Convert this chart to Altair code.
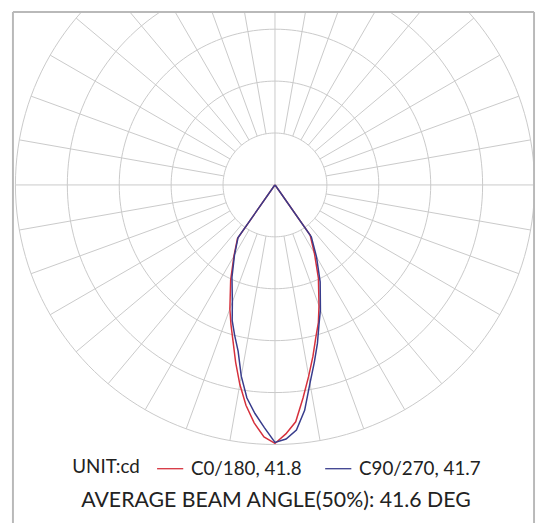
import altair as alt
import pandas as pd

# ---- data (intensity in cd, outer ring = 250) ----
angles = [0, 2.5, 5, 7.5, 10, 12.5, 15, 17.5, 20, 25, 30, 35, 40, 50, 60, 70, 80, 90]
c0   = [249, 240, 229, 207, 187, 169, 152, 139, 124, 99, 76, 59, 1, 0, 0, 0, 0, 0]
c180 = [249, 243, 230, 214, 195, 175, 156, 141, 127, 101, 79, 63, 1, 0, 0, 0, 0, 0]
c90  = [248, 245, 237, 219, 194, 175, 158, 141, 128, 103, 80, 61, 1, 0, 0, 0, 0, 0]
c270 = [248, 234, 221, 207, 187, 164, 150, 137, 120, 98, 78, 62, 1, 0, 0, 0, 0, 0]

rings = [50, 100, 150, 200, 250]
spoke_angles = list(range(0, 360, 10))
series_names = ["C0/180, 41.8", "C90/270, 41.7"]
series_colors = ["#d6303c", "#383c8c"]
unit_label = "UNIT:cd"
footer_text = "AVERAGE BEAM ANGLE(50%): 41.6 DEG"

FONT = "Lato"
GRID = "#c9c9c9"
FRAME = "#b9b9b9"

# ---- tables built from the arrays ----
rows = []
for name, right, left in [(series_names[0], c0, c180), (series_names[1], c90, c270)]:
    for a, v in zip(angles, left):
        rows.append({"series": name, "phi": -a, "r": v})
    for a, v in zip(angles, right):
        rows.append({"series": name, "phi": a, "r": v})
curves = pd.DataFrame(rows)

circ_rows = []
for rr in rings:
    for t in range(0, 362, 2):
        circ_rows.append({"ring": rr, "t": t})
circles = pd.DataFrame(circ_rows)

spokes = pd.DataFrame({
    "a": spoke_angles,
    "r0": [0 if a % 90 == 0 else rings[0] for a in spoke_angles],
    "r1": [rings[-1]] * len(spoke_angles),
})

W, H = 527, 505
PAD_B = 12
PX = 1.05           # pixels per cd unit
CX, CY = 265, 175   # centre inside the plot area
xs = alt.Scale(domain=[-CX / PX, (W - CX) / PX], nice=False, zero=False)
ys = alt.Scale(domain=[-(H - CY) / PX, CY / PX], nice=False, zero=False)
noax = None

circle_layer = alt.Chart(circles).transform_calculate(
    x="datum.ring*sin(datum.t*PI/180)", y="datum.ring*cos(datum.t*PI/180)"
).mark_line(color=GRID, strokeWidth=1, clip=True).encode(
    x=alt.X("x:Q", scale=xs, axis=noax),
    y=alt.Y("y:Q", scale=ys, axis=noax),
    detail="ring:N",
    order="t:Q",
)

spoke_layer = alt.Chart(spokes).transform_calculate(
    x="datum.r0*sin(datum.a*PI/180)", y="datum.r0*cos(datum.a*PI/180)",
    x2="datum.r1*sin(datum.a*PI/180)", y2="datum.r1*cos(datum.a*PI/180)",
).mark_rule(color=GRID, strokeWidth=1, clip=True).encode(
    x=alt.X("x:Q", scale=xs, axis=noax), y=alt.Y("y:Q", scale=ys, axis=noax),
    x2="x2:Q", y2="y2:Q",
)

curve_layer = alt.Chart(curves).transform_calculate(
    x="datum.r*sin(datum.phi*PI/180)", y="-datum.r*cos(datum.phi*PI/180)"
).mark_line(strokeWidth=1.5, clip=True).encode(
    x=alt.X("x:Q", scale=xs, axis=noax),
    y=alt.Y("y:Q", scale=ys, axis=noax),
    order="phi:Q",
    color=alt.Color(
        "series:N",
        scale=alt.Scale(domain=series_names, range=series_colors),
        legend=alt.Legend(
            title=unit_label, orient="none", legendX=60, legendY=448,
            direction="horizontal", titleOrient="left",
            titleFont=FONT, labelFont=FONT, titleFontSize=19, labelFontSize=19,
            titleFontWeight="normal", titleColor="#222", labelColor="#222",
            symbolType="stroke", symbolSize=700, symbolStrokeWidth=1.3,
            labelOffset=7, columnPadding=20, titlePadding=16, labelLimit=300,
        ),
    ),
)

# frame: left, right and top edges (bottom edge lies outside the picture)
frame = pd.DataFrame({"edge": ["left", "right", "top"]})
frame_left = alt.Chart(frame).transform_filter("datum.edge=='left'").mark_rule(
    color=FRAME, strokeWidth=2).encode(x=alt.value(0), y=alt.value(0), y2=alt.value(H + PAD_B))
frame_right = alt.Chart(frame).transform_filter("datum.edge=='right'").mark_rule(
    color=FRAME, strokeWidth=2).encode(x=alt.value(W), y=alt.value(0), y2=alt.value(H + PAD_B))
frame_top = alt.Chart(frame).transform_filter("datum.edge=='top'").mark_rule(
    color=FRAME, strokeWidth=2).encode(x=alt.value(0), x2=alt.value(W), y=alt.value(0))

footer = alt.Chart(pd.DataFrame({"t": [footer_text]})).mark_text(
    font=FONT, fontSize=21.5, color="#222", baseline="middle", align="center"
).encode(x=alt.value(CX + 1), y=alt.value(495), text="t:N")

chart = alt.layer(
    circle_layer, spoke_layer, curve_layer, frame_left, frame_right, frame_top, footer
).properties(
    width=W, height=H,
    padding={"left": 5, "top": 1, "right": 3, "bottom": PAD_B},
    autosize=alt.AutoSizeParams(type="none"),
    background="white",
).configure_view(stroke=None)

chart.save("out.html", embed_options={"renderer": "svg", "actions": False})
